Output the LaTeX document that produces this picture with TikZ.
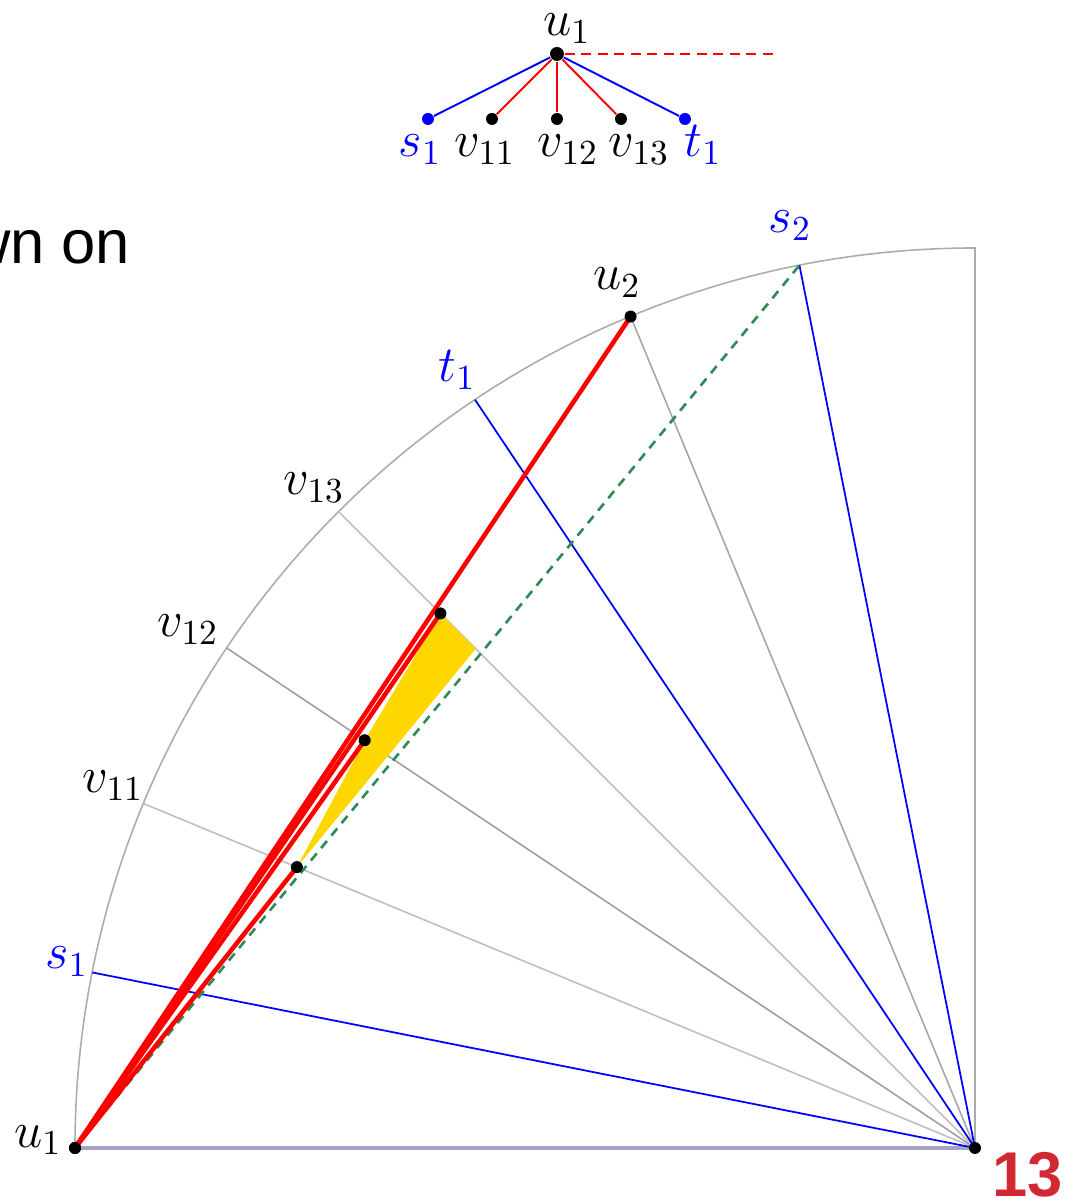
\documentclass[tikz,border=0pt]{standalone}
\usepackage{fontspec}
\setsansfont{Liberation Sans}
\definecolor{seagrn}{RGB}{46,139,87}
\definecolor{gold}{RGB}{255,215,0}
\definecolor{pagered}{RGB}{210,40,50}
\definecolor{baseln}{RGB}{165,165,195}
\begin{document}
\begin{tikzpicture}[font=\fontsize{14.5}{17}\selectfont,
      dot/.style={circle, fill=black, inner sep=0pt, minimum size=0.12cm},
      bdot/.style={circle, fill=blue, inner sep=0pt, minimum size=0.12cm},
      lbl/.style={inner sep=0pt, anchor=base},
      rim/.style={draw=gray!65, line width=0.45pt},
      ray/.style={draw=gray!50, line width=0.45pt},
      sray/.style={draw=blue, line width=0.5pt},
      pth/.style={draw=red, line width=1.3pt},
      tedge/.style={line width=0.55pt}]
    \useasboundingbox (-9.75,-0.53) rectangle (0.98,11.48);
    % points on the quarter circle
    \coordinate (C) at (0,0);
    \coordinate (top) at (0,9);
    \coordinate (s1) at (168.75:9);
    \coordinate (v11) at (157.5:9);
    \coordinate (v12) at (146.25:9);
    \coordinate (v13) at (135:9);
    \coordinate (t1) at (123.75:9);
    \coordinate (u2) at (112.5:9);
    \coordinate (s2) at (101.25:9);
    \coordinate (p1) at (157.5:7.34);
    \coordinate (p2) at (146.25:7.34);
    \coordinate (p3) at (135:7.56);
    \coordinate (q) at (135:7.06);
    % frame
    \draw[rim] (-9,0) arc[start angle=180, end angle=90, radius=9] -- (C);
    \draw[draw=baseln, line width=0.9pt] (-9,0) -- (C);
    \draw[ray] (v11) -- (C);
    \draw[ray, draw=gray!75] (v12) -- (C);
    \draw[ray] (v13) -- (C);
    \draw[ray, draw=gray!70] (u2) -- (C);
    \fill[gold] (p1) -- (p2) -- (p3) -- (q) -- cycle;
    \draw[sray] (s1) -- (C);
    \draw[sray] (t1) -- (C);
    \draw[sray] (s2) -- (C);
    \node[dot] (u1) at (-9,0) {};
    \draw[seagrn, line width=0.75pt, dash pattern=on 2.6pt off 2pt] (u1.center) -- (s2);
    \draw[pth] (u1.center) -- (u2);
    \draw[pth] (u1.center) -- (p3);
    \draw[pth] (u1.center) -- (p2);
    \draw[pth] (u1.center) -- (p1);
    \node[dot] (u1) at (-9,0) {};
    \node[dot] (nu2) at (u2) {};
    \node[dot] (np1) at (p1) {};
    \node[dot] (np2) at (p2) {};
    \node[dot] (np3) at (p3) {};
    \node[dot] (nc) at (C) {};
    % labels on the arc
    \node[lbl, blue] (ls2) at (-1.85,9.15) {$s_2$};
    \node[lbl] (lu2) at (-3.58,8.58) {$u_2$};
    \node[lbl, blue] (lt1) at (-5.18,7.66) {$t_1$};
    \node[lbl] (lv13) at (-6.61,6.53) {$v_{13}$};
    \node[lbl] (lv12) at (-7.87,5.11) {$v_{12}$};
    \node[lbl] (lv11) at (-8.62,3.55) {$v_{11}$};
    \node[lbl, blue] (ls1) at (-9.08,1.79) {$s_1$};
    \node[lbl] (lu1) at (-9.37,0.01) {$u_1$};
    % small tree
    \node[dot, minimum size=0.14cm] (tu1) at (-4.18,10.94) {};
    \node[bdot] (ts1) at (-5.47,10.29) {};
    \node[dot] (tv11) at (-4.83,10.29) {};
    \node[dot] (tv12) at (-4.18,10.29) {};
    \node[dot] (tv13) at (-3.54,10.29) {};
    \node[bdot] (tt1) at (-2.90,10.29) {};
    \coordinate (tend) at (-2.00,10.94);
    \draw[tedge, blue] (tu1) -- (ts1);
    \draw[tedge, red] (tu1) -- (tv11);
    \draw[tedge, red] (tu1) -- (tv12);
    \draw[tedge, red] (tu1) -- (tv13);
    \draw[tedge, blue] (tu1) -- (tt1);
    \draw[tedge, red, dash pattern=on 2.8pt off 1.9pt] (tu1) -- (tend);
    \node[lbl] (ltu1) at (-4.08,11.12) {$u_1$};
    \node[lbl, blue] (lts1) at (-5.55,9.91) {$s_1$};
    \node[lbl] (ltv11) at (-4.90,9.91) {$v_{11}$};
    \node[lbl] (ltv12) at (-4.07,9.91) {$v_{12}$};
    \node[lbl] (ltv13) at (-3.36,9.91) {$v_{13}$};
    \node[lbl, blue] (ltt1) at (-2.72,9.91) {$t_1$};
    % slide text
    \node[inner sep=0pt, anchor=base east, font=\sffamily\fontsize{17.5}{21}\selectfont] (txt) at (-8.44,8.84) {wn on};
    \node[inner sep=0pt, anchor=base west, text=pagered, font=\sffamily\bfseries\fontsize{18}{22}\selectfont] (pg) at (0.17,-0.49) {13};
  \end{tikzpicture}
\end{document}
